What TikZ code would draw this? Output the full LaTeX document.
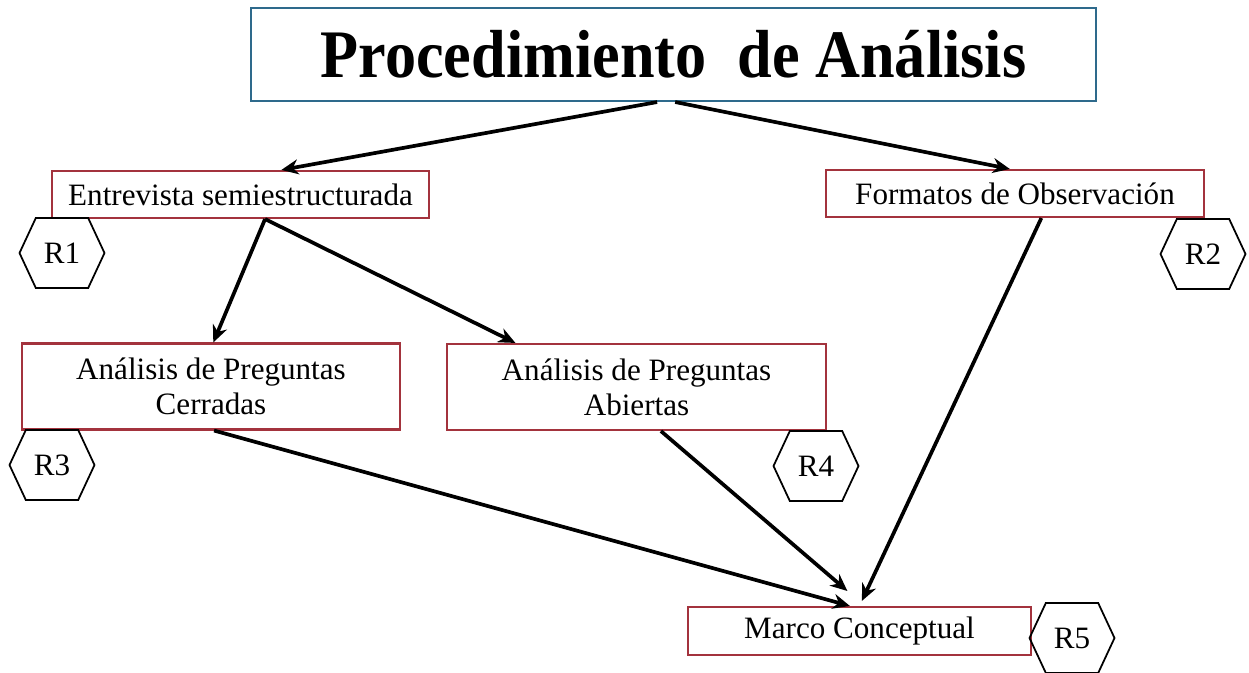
\documentclass[tikz,border=0pt]{standalone}
\usepackage{fontspec}
\setmainfont{Liberation Serif}
\usepackage{graphicx}
\usepackage{tikz}
\usetikzlibrary{positioning, arrows.meta, shapes.symbols}
\definecolor{boxRed}{HTML}{A3333D}
\definecolor{titleBlue}{HTML}{2E6A8C}
\tikzstyle{titleBox}=[draw=titleBlue, line width=1.2pt, minimum width=16.9cm, minimum height=1.86cm, inner sep=0pt]
\tikzstyle{stepBox}=[draw=boxRed, line width=1.2pt, minimum width=7.56cm, minimum height=0.94cm, inner sep=0pt, align=center, font=\fontsize{17.7}{19.9}\selectfont]
\tikzstyle{tagHex}=[draw, signal, signal to=east and west, signal pointer angle=130, minimum width=1.7cm, minimum height=1.4cm, inner sep=0pt, line width=1pt, font=\fontsize{17.7}{20}\selectfont]
\tikzstyle{flowArrow}=[-{Stealth[length=0.34cm, width=0.3cm]}, line width=2.1pt]

\begin{document}
\begin{tikzpicture}
  \useasboundingbox (0, 0) rectangle (24.98, -13.46);

  % boxes
  \node[titleBox, font=\bfseries\fontsize{38.7}{40}\selectfont] (title) at (13.47, -1.09)
    {\scalebox{0.915}[1]{Procedimiento\ \ de Análisis}};

  \node[stepBox, minimum width=7.54cm] (entrevista) at (4.81, -3.89) {Entrevista semiestructurada};
  \node[stepBox] (formatos) at (20.30, -3.87) {Formatos de Observación};
  \node[stepBox, minimum height=1.72cm] (cerradas) at (4.22, -7.73) {Análisis de Preguntas\\Cerradas};
  \node[stepBox, minimum height=1.72cm, minimum width=7.58cm] (abiertas) at (12.73, -7.74) {Análisis de Preguntas\\Abiertas};
  \node[stepBox, minimum width=6.86cm, minimum height=0.96cm] (marco) at (17.19, -12.62) {Marco Conceptual};

  % hexagon tags
  \node[tagHex] (r1) at (1.24, -5.06) {R1};
  \node[tagHex] (r2) at (24.06, -5.08) {R2};
  \node[tagHex] (r3) at (1.04, -9.30) {R3};
  \node[tagHex] (r4) at (16.32, -9.32) {R4};
  \node[tagHex] (r5) at (21.44, -12.76) {R5};

  % arrows
  \draw[flowArrow] (title.-109.5) -- (entrevista.31.6);
  \draw[flowArrow] (title.-88) -- (formatos.102.5);

  \draw[flowArrow] (entrevista.-45) -- (cerradas.87.4);
  \draw[flowArrow] (entrevista.-45) -- (abiertas.160.5);

  \draw[flowArrow] (cerradas.-86) -- (marco.111.6);
  \draw[flowArrow, shorten >=0.46cm] (abiertas.-61.9) -- (marco.78);
  \draw[flowArrow, shorten >=0.11cm] (formatos.-43.4) -- (marco.90);
\end{tikzpicture}
\end{document}
